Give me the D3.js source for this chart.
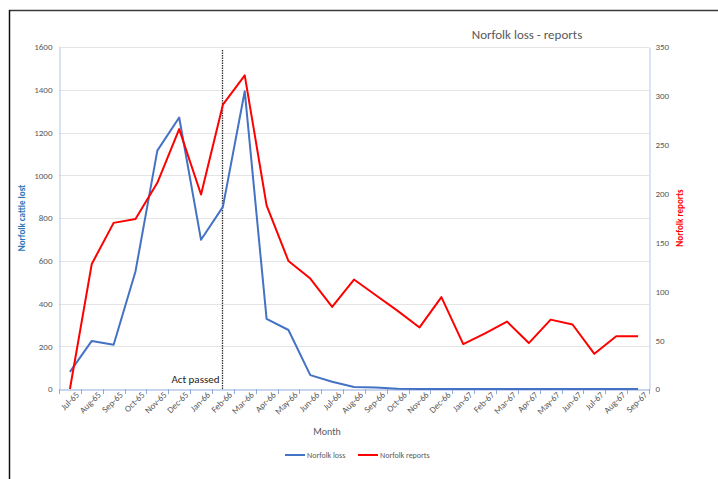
<!DOCTYPE html>
<html>
<head>
<meta charset="utf-8">
<script src="https://cdn.jsdelivr.net/npm/d3@7"></script>
<style>
  body { margin: 0; background: #fff; }
  text { font-family: Calibri, Carlito, "Open Sans", sans-serif; }
</style>
</head>
<body>
<script>
var months = ["Jul-65","Aug-65","Sep-65","Oct-65","Nov-65","Dec-65","Jan-66","Feb-66","Mar-66",
  "Apr-66","May-66","Jun-66","Jul-66","Aug-66","Sep-66","Oct-66","Nov-66","Dec-66","Jan-67",
  "Feb-67","Mar-67","Apr-67","May-67","Jun-67","Jul-67","Aug-67","Sep-67"];
var lossValues = [80, 225, 207, 550, 1115, 1270, 698, 852, 1393, 328, 276, 65, 34, 9, 7, 1,
  0, 0, 0, 0, 0, 0, 0, 0, 0, 0, 0];
var reportValues = [0, 128, 170, 174, 211, 266, 199, 291, 321, 188, 131, 113, 84, 112, 96, 80,
  63, 94, 46, 57, 69, 47, 71, 66, 36, 54, 54];
var lossTicks = [0, 200, 400, 600, 800, 1000, 1200, 1400, 1600];
var reportTicks = [0, 50, 100, 150, 200, 250, 300, 350];
var actMonth = "Feb-66";

var W = 718, H = 479;
var m = {left: 59, right: 69, top: 47, bottom: 90};

var svg = d3.select("body").append("svg")
  .attr("width", W).attr("height", H);

// frame (only top and left edges show in the photo)
svg.append("line").attr("x1", 9).attr("y1", 10.5).attr("x2", W).attr("y2", 10.5)
  .attr("stroke", "#3a3a3a").attr("stroke-width", 1.5);
svg.append("line").attr("x1", 9.5).attr("y1", 10).attr("x2", 9.5).attr("y2", H)
  .attr("stroke", "#111").attr("stroke-width", 1.5);

var x = d3.scaleBand().domain(months).range([m.left, W - m.right]);
var yL = d3.scaleLinear().domain([0, 1600]).range([H - m.bottom, m.top]);
var yR = d3.scaleLinear().domain([0, 350]).range([H - m.bottom, m.top]);
var cx = function(d) { return x(d) + x.bandwidth() / 2; };

// gridlines
svg.append("g").selectAll("line").data(lossTicks.slice(1))
  .enter().append("line")
  .attr("x1", m.left).attr("x2", W - m.right)
  .attr("y1", function(d) { return Math.round(yL(d)) + 0.5; })
  .attr("y2", function(d) { return Math.round(yL(d)) + 0.5; })
  .attr("stroke", "#e4e4e4").attr("stroke-width", 1);

// left axis
var axL = svg.append("g").attr("transform", "translate(" + (m.left + 0.5) + ",0)")
  .call(d3.axisLeft(yL).tickValues(lossTicks).tickSize(0).tickPadding(7).tickFormat(d3.format("d")));
axL.select(".domain").attr("stroke", "#b4c7e7");
axL.selectAll("text").attr("fill", "#595959").style("font-size", "9px");

// right axis
var axR = svg.append("g").attr("transform", "translate(" + (W - m.right + 0.5) + ",0)")
  .call(d3.axisRight(yR).tickValues(reportTicks).tickSize(0).tickPadding(6));
axR.select(".domain").attr("stroke", "#b4c7e7");
axR.selectAll("text").attr("fill", "#595959").style("font-size", "9px");

// bottom axis
var axB = svg.append("g").attr("transform", "translate(0," + (H - m.bottom + 0.5) + ")")
  .call(d3.axisBottom(x).tickSize(0).tickPadding(8));
axB.select(".domain").attr("stroke", "#8eaadb");
axB.selectAll("text")
  .attr("fill", "#595959").style("font-size", "9px")
  .attr("text-anchor", "end")
  .attr("dx", "0.3em").attr("dy", "0.35em")
  .attr("transform", "rotate(-45)");
// tick marks between categories
svg.append("g").selectAll("line").data(months.concat(["end"]))
  .enter().append("line")
  .attr("x1", function(d, i) { return Math.round(m.left + i * x.step()) + 0.5; })
  .attr("x2", function(d, i) { return Math.round(m.left + i * x.step()) + 0.5; })
  .attr("y1", H - m.bottom).attr("y2", H - m.bottom + 5)
  .attr("stroke", "#8eaadb");

// act passed marker
var ax = Math.round(cx(actMonth)) - 0.5;
svg.append("line").attr("x1", ax).attr("x2", ax)
  .attr("y1", m.top + 3).attr("y2", H - m.bottom)
  .attr("stroke", "#333").attr("stroke-width", 1.3).attr("stroke-dasharray", "1.5,1");
svg.append("text").attr("x", ax - 3).attr("y", H - m.bottom - 6)
  .attr("text-anchor", "end").attr("fill", "#222").style("font-size", "11px")
  .text("Act passed");

// lines
var lossLine = d3.line().x(function(d, i) { return cx(months[i]); }).y(function(d) { return yL(d); });
var repLine = d3.line().x(function(d, i) { return cx(months[i]); }).y(function(d) { return yR(d); });

svg.append("path").datum(lossValues).attr("d", lossLine)
  .attr("fill", "none").attr("stroke", "#4472c4").attr("stroke-width", 2).attr("stroke-linejoin", "round");
svg.append("path").datum(reportValues).attr("d", repLine)
  .attr("fill", "none").attr("stroke", "#ff0000").attr("stroke-width", 2).attr("stroke-linejoin", "round");

// title and axis titles
svg.append("text").attr("x", 527).attr("y", 39).attr("text-anchor", "middle")
  .attr("fill", "#595959").style("font-size", "13px").text("Norfolk loss - reports");
svg.append("text").attr("transform", "translate(25," + 218 + ") rotate(-90)")
  .attr("text-anchor", "middle").attr("fill", "#2e75b6").style("font-size", "9px")
  .style("font-weight", "bold").text("Norfolk cattle lost");
svg.append("text").attr("transform", "translate(683," + 218 + ") rotate(-90)")
  .attr("text-anchor", "middle").attr("fill", "#ff0000").style("font-size", "9px")
  .style("font-weight", "bold").text("Norfolk reports");
svg.append("text").attr("x", 327).attr("y", 435).attr("text-anchor", "middle")
  .attr("fill", "#595959").style("font-size", "10px").text("Month");

// legend
var legend = [{name: "Norfolk loss", color: "#4472c4", x: 285}, {name: "Norfolk reports", color: "#ff0000", x: 358}];
var lg = svg.append("g").selectAll("g").data(legend).enter().append("g")
  .attr("transform", function(d) { return "translate(" + d.x + ",455)"; });
lg.append("line").attr("x1", 0).attr("x2", 20).attr("stroke", function(d) { return d.color; }).attr("stroke-width", 2);
lg.append("text").attr("x", 22).attr("y", 3).attr("fill", "#595959").style("font-size", "8px")
  .text(function(d) { return d.name; });
</script>
</body>
</html>
